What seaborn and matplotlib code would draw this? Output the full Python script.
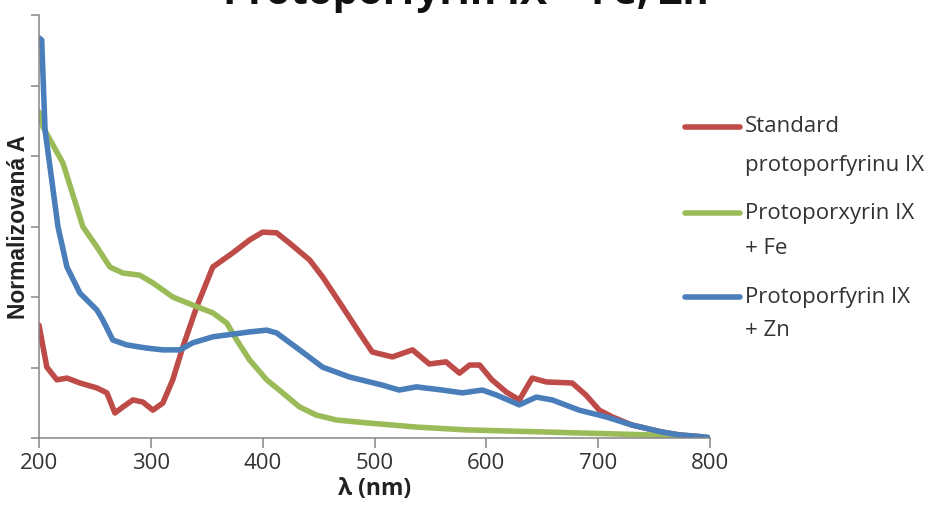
import numpy as np
import pandas as pd
import seaborn as sns
import matplotlib.pyplot as plt
from matplotlib.lines import Line2D

# ---- data ----
std_nm = [200, 207, 216, 225, 236.6, 251.8, 260.7, 267.9, 275, 284, 292.9, 301.8, 310.7,
          319.6, 328.6, 341, 355.4, 373.2, 388.4, 400, 412.5, 424, 442, 453.6, 471.4,
          486.6, 498, 516, 534, 549, 564, 576, 585, 594, 605, 618, 629.5, 641, 653.6,
          676.8, 689, 701, 712.5, 730, 757, 772, 794.6, 800]
std_a = [0.32, 0.201, 0.165, 0.170, 0.156, 0.142, 0.128, 0.071, 0.088, 0.108, 0.102, 0.079, 0.099,
         0.165, 0.258, 0.372, 0.485, 0.525, 0.562, 0.584, 0.582, 0.553, 0.505, 0.457, 0.372,
         0.298, 0.244, 0.230, 0.250, 0.210, 0.216, 0.184, 0.207, 0.207, 0.165, 0.130, 0.108, 0.170, 0.159,
         0.156, 0.122, 0.079, 0.060, 0.037, 0.017, 0.009, 0.003, 0.0]

fe_nm = [200, 203.6, 221.4, 239.3, 251.8, 263.4, 275, 290, 301.8, 319.6, 337.5, 355.4, 367.9,
         376.8, 388.4, 403.6, 417.9, 433, 448, 466, 492.9, 537.5, 582, 653.6, 743, 794.6, 800]
fe_a = [0.925, 0.882, 0.780, 0.599, 0.542, 0.485, 0.468, 0.462, 0.440, 0.400, 0.377, 0.355, 0.326,
        0.278, 0.221, 0.165, 0.128, 0.088, 0.065, 0.051, 0.043, 0.031, 0.023, 0.017, 0.009, 0.003, 0.0]

zn_nm = [200, 202.4, 205.4, 217, 225, 236.6, 251.8, 257, 266, 278.6, 296.4, 310.7, 326, 337.5,
         355.4, 388.4, 403.6, 412.5, 433, 453.6, 477.7, 507, 522, 537.5, 560.7, 578.6, 596.4,
         609, 629.5, 644.6, 659, 683, 707, 730, 757, 772, 794.6, 800]
zn_a = [1.135, 1.129, 0.874, 0.599, 0.485, 0.411, 0.363, 0.335, 0.278, 0.264, 0.255, 0.250, 0.250, 0.270,
        0.287, 0.301, 0.306, 0.298, 0.250, 0.201, 0.173, 0.150, 0.136, 0.145, 0.136, 0.128, 0.136,
        0.122, 0.094, 0.116, 0.108, 0.079, 0.060, 0.037, 0.017, 0.009, 0.003, 0.0]

series_names = ["Standard protoporfyrinu IX", "Protoporxyrin IX + Fe", "Protoporfyrin IX + Zn"]
legend_lines = [["Standard", "protoporfyrinu IX"], ["Protoporxyrin IX", "+ Fe"], ["Protoporfyrin IX", "+ Zn"]]
colors = ["#BE4B48", "#9BBB59", "#4A7EBB"]
x_ticks = [200, 300, 400, 500, 600, 700, 800]
title = "Protoporfyrin IX + Fe, Zn"
xlabel = "λ (nm)"
ylabel = "Normalizovaná A"

df = pd.concat([
    pd.DataFrame({"nm": std_nm, "A": std_a, "series": series_names[0]}),
    pd.DataFrame({"nm": fe_nm, "A": fe_a, "series": series_names[1]}),
    pd.DataFrame({"nm": zn_nm, "A": zn_a, "series": series_names[2]}),
])

sns.set_style("white")
plt.rcParams['font.family'] = ['Open Sans', 'DejaVu Sans']

W, H = 936, 517
fig = plt.figure(figsize=(W / 100, H / 100), dpi=100)
ax_l, ax_r, ax_t, ax_b = 39, 710, 15, 438
ax = fig.add_axes([ax_l / W, 1 - ax_b / H, (ax_r - ax_l) / W, (ax_b - ax_t) / H])

sns.lineplot(data=df, x="nm", y="A", hue="series", palette=dict(zip(series_names, colors)),
             hue_order=series_names, estimator=None, sort=False, linewidth=4.0, legend=False, ax=ax)

ax.set_xlim(200, 800)
ax.set_ylim(0, 1.2)
ax.set_xticks(x_ticks)
ax.set_xticklabels([str(t) for t in x_ticks], fontsize=16, color="#333333")
ax.set_yticks(np.arange(0, 1.21, 0.2))
ax.tick_params(axis="y", length=6, width=1.1, color="#868686", direction="out", left=True, labelleft=False)
ax.tick_params(axis="x", length=7, width=1.1, color="#868686", direction="out", bottom=True, pad=4)
for s in ["top", "right"]:
    ax.spines[s].set_visible(False)
for s in ["left", "bottom"]:
    ax.spines[s].set_color("#868686")
    ax.spines[s].set_linewidth(1.1)

ax.set_xlabel(xlabel, fontsize=16.5, fontweight="bold", color="#222222", labelpad=2)
ax.set_ylabel(ylabel, fontsize=16.5, fontweight="bold", family=["Liberation Sans", "DejaVu Sans"],
              color="#222222")
ax.yaxis.set_label_coords(-9 / (ax_r - ax_l), 0.5)

fig.text(466 / W, 1 - 4 / H, title, ha="center", va="baseline", fontsize=29, fontweight="bold",
         color="#111111")

# legend (manual, to mimic first-line-aligned handles)
legend_y = [(127, 165), (213, 248), (297, 331)]
for (y1, y2), lines, c in zip(legend_y, legend_lines, colors):
    fig.add_artist(Line2D([685 / W, 740 / W], [1 - y1 / H, 1 - y1 / H], color=c, linewidth=4.0,
                          transform=fig.transFigure))
    fig.text(745 / W, 1 - y1 / H, lines[0], ha="left", va="center", fontsize=16, color="#333333")
    fig.text(745 / W, 1 - y2 / H, lines[1], ha="left", va="center", fontsize=16, color="#333333")

fig.savefig("out.png", dpi=100)
